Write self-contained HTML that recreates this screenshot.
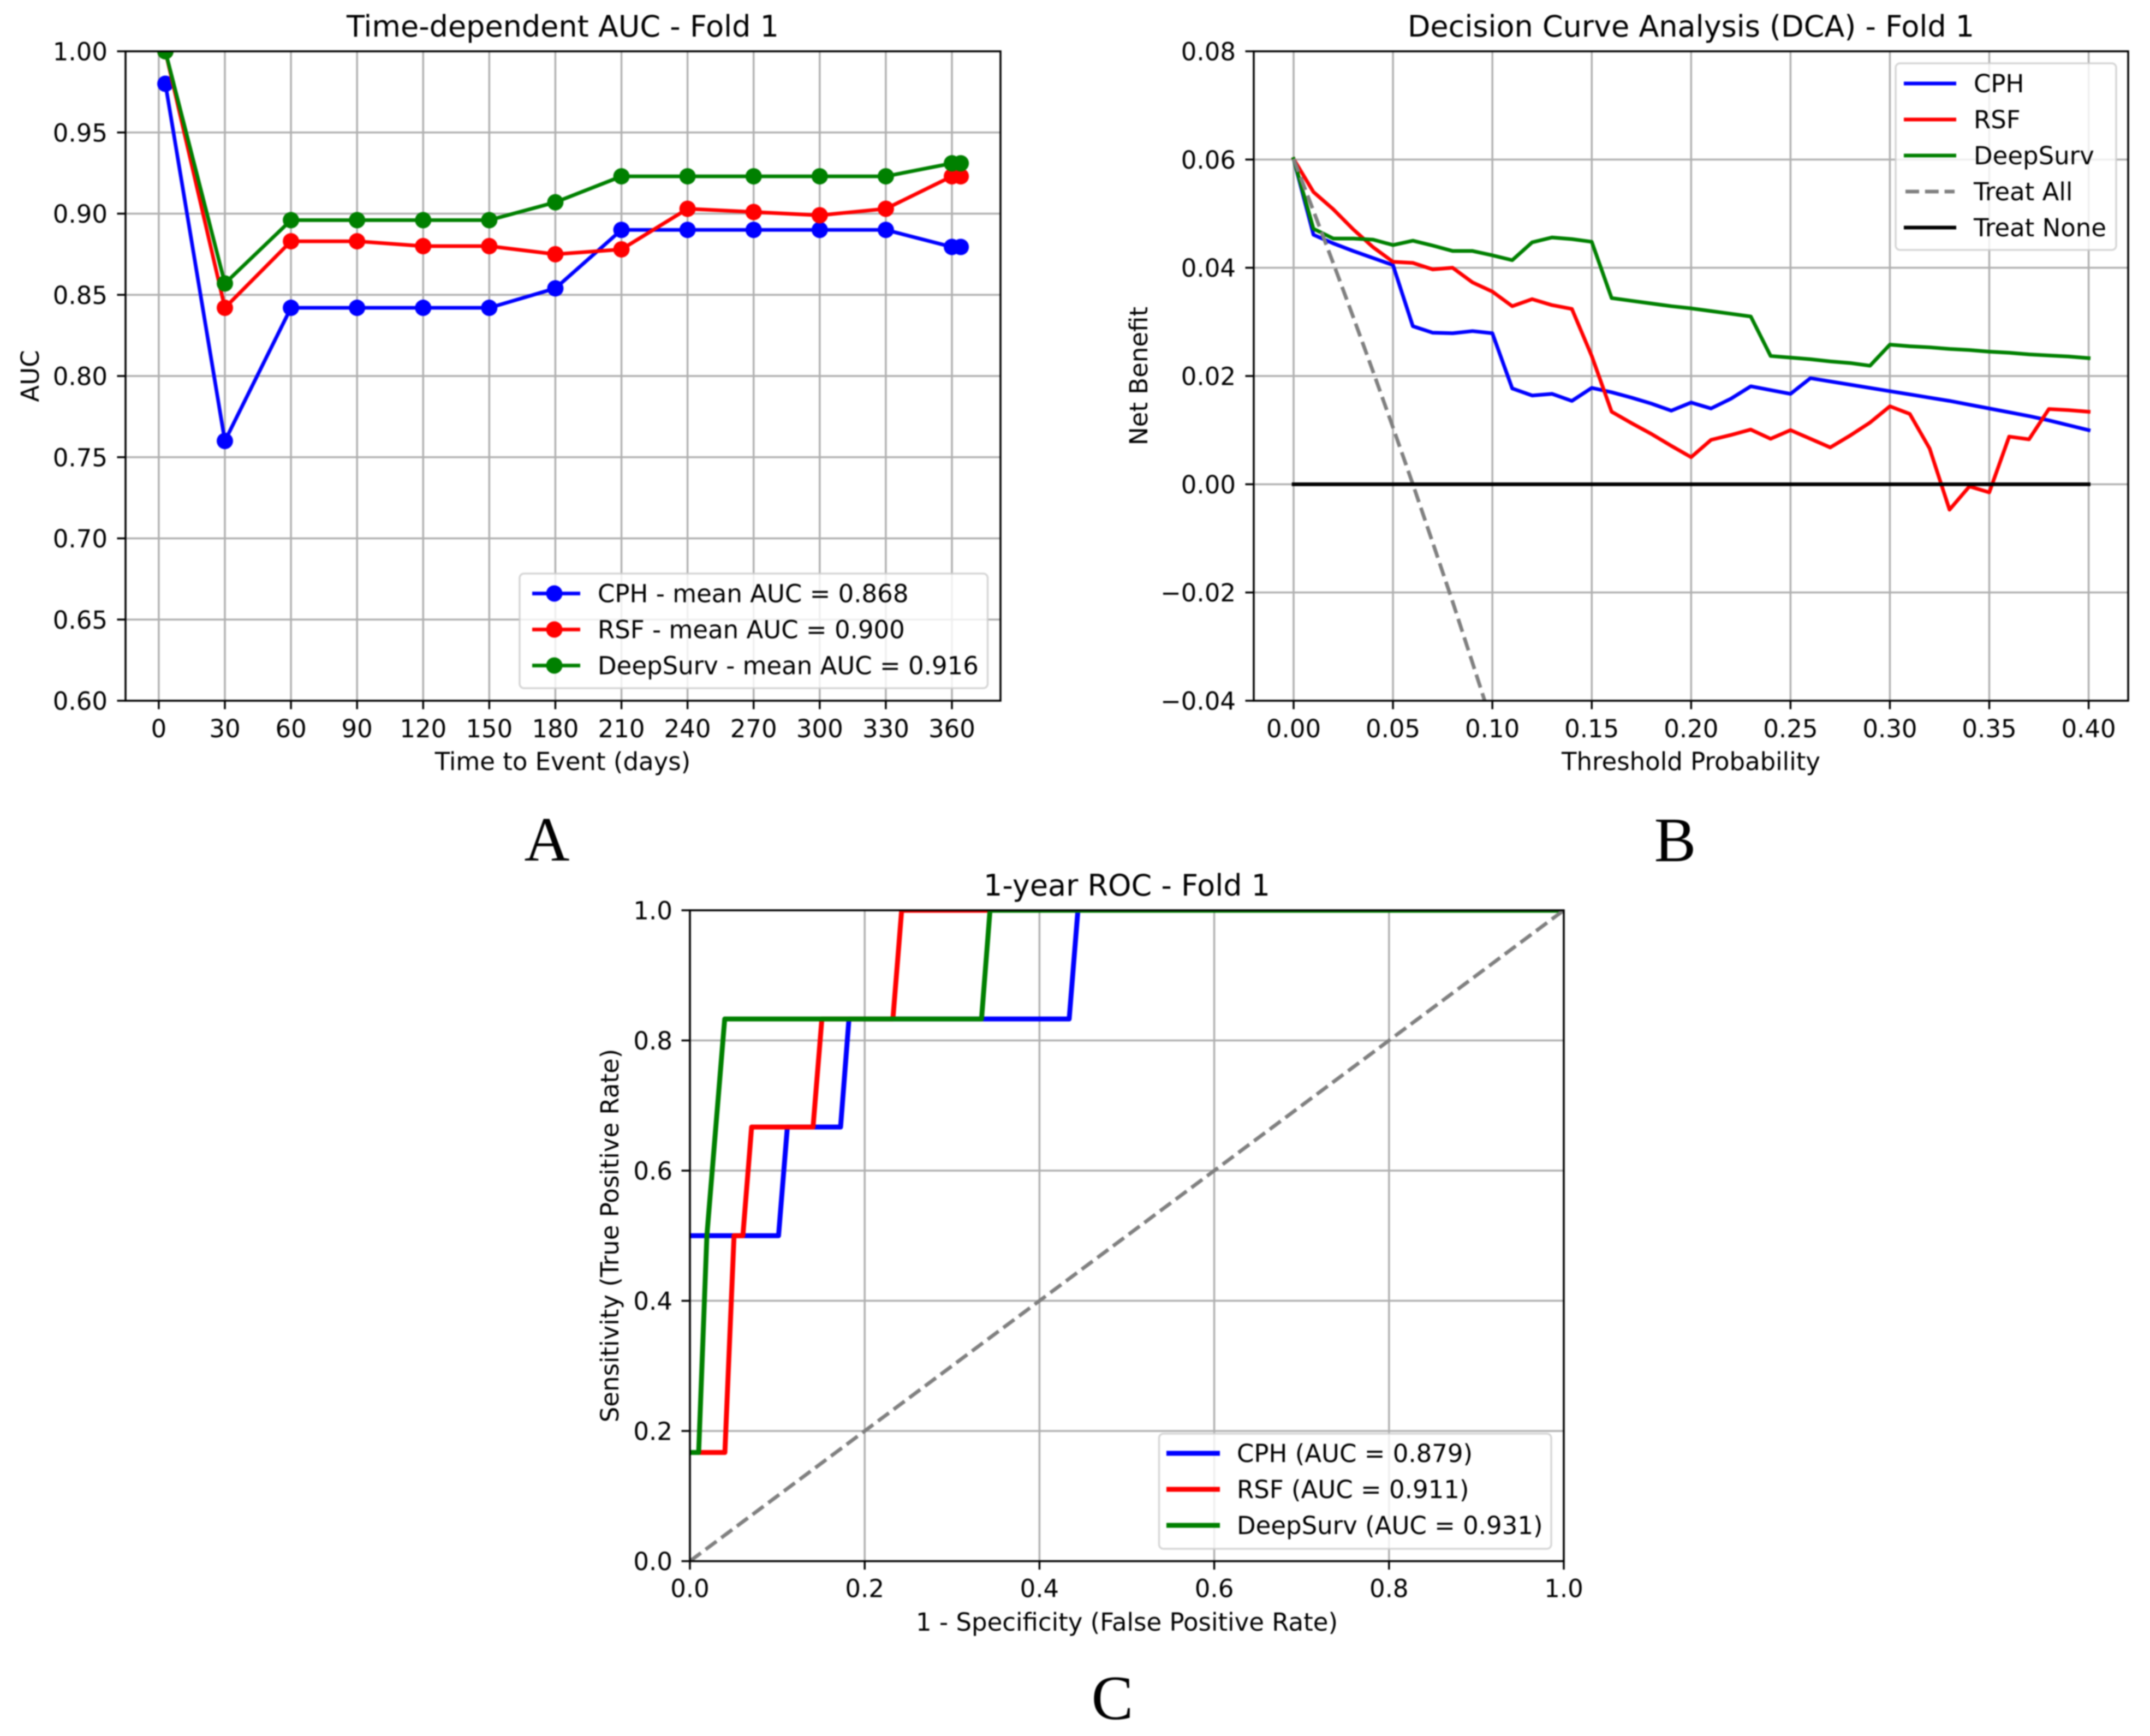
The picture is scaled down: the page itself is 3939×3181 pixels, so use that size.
<!DOCTYPE html>
<html lang="en">
<head>
<meta charset="utf-8">
<title>Survival model comparison - Fold 1</title>
<style>
html,body{margin:0;padding:0;background:#fff;}
svg{display:block;filter:blur(1.1px);}
text{font-family:"DejaVu Sans",sans-serif;fill:#000;}
.t10{font-size:45px;}
.t12{font-size:54px;}
.letter{font-family:"Liberation Serif",serif;font-size:115px;text-anchor:middle;}
.mid{text-anchor:middle;}
</style>
</head>
<body>
<svg id="figure" xmlns="http://www.w3.org/2000/svg" width="3939" height="3181" viewBox="0 0 3939 3181">
<defs>
<clipPath id="clip-a"><rect x="230" y="94" width="1603" height="1190"/></clipPath>
<clipPath id="clip-b"><rect x="2297" y="94" width="1602" height="1190"/></clipPath>
<clipPath id="clip-c"><rect x="1264" y="1668" width="1601" height="1192.6"/></clipPath>
</defs>
<rect width="3939" height="3181" fill="#fff"/>

<g id="panel-a"></g>
<g id="panel-b"></g>
<g id="panel-c"></g>

<g>
<text class="t12 mid" x="1031" y="67">Time-dependent AUC - Fold 1</text>
<text class="t10 mid" x="1031" y="1411">Time to Event (days)</text>
<text class="t10 mid" transform="translate(71 689) rotate(-90)">AUC</text>
<text class="letter" x="1002" y="1577">A</text>
</g>
<g>
<rect x="952" y="1051" width="857.5" height="210" rx="8" fill="#fff" fill-opacity="0.8" stroke="#ccc" stroke-opacity="0.8" stroke-width="3.5"/>
<g>
<line x1="975" x2="1063" y1="1087.5" y2="1087.5" stroke="#00f" stroke-width="6.75"/><circle cx="1015.5" cy="1087.5" r="15" fill="#00f"/>
<text class="t10" x="1095" y="1103.5">CPH - mean AUC = 0.868</text></g>
<g>
<line x1="975" x2="1063" y1="1153.5" y2="1153.5" stroke="#f00" stroke-width="6.75"/><circle cx="1015.5" cy="1153.5" r="15" fill="#f00"/>
<text class="t10" x="1095" y="1169.5">RSF - mean AUC = 0.900</text></g>
<g>
<line x1="975" x2="1063" y1="1219.5" y2="1219.5" stroke="#008000" stroke-width="6.75"/><circle cx="1015.5" cy="1219.5" r="15" fill="#008000"/>
<text class="t10" x="1095" y="1235.5">DeepSurv - mean AUC = 0.916</text></g>
</g>

<g>
<text class="t12 mid" x="3098" y="67">Decision Curve Analysis (DCA) - Fold 1</text>
<text class="t10 mid" x="3098" y="1411">Threshold Probability</text>
<text class="t10 mid" transform="translate(2102 689) rotate(-90)">Net Benefit</text>
<text class="letter" x="3069" y="1578">B</text>
</g>
<g>
<rect x="3473" y="116" width="404" height="342" rx="8" fill="#fff" fill-opacity="0.8" stroke="#ccc" stroke-opacity="0.8" stroke-width="3.5"/>
<g><line x1="3488" x2="3584" y1="153" y2="153" stroke="#00f" stroke-width="6.75"/><text class="t10" x="3616" y="169">CPH</text></g>
<g><line x1="3488" x2="3584" y1="219" y2="219" stroke="#f00" stroke-width="6.75"/><text class="t10" x="3616" y="235">RSF</text></g>
<g><line x1="3488" x2="3584" y1="285" y2="285" stroke="#008000" stroke-width="6.75"/><text class="t10" x="3616" y="301">DeepSurv</text></g>
<g><line x1="3491" x2="3581" y1="351" y2="351" stroke="#808080" stroke-width="6.75" stroke-dasharray="25 10.8"/><text class="t10" x="3616" y="367">Treat All</text></g>
<g><line x1="3488" x2="3584" y1="417" y2="417" stroke="#000" stroke-width="6.75"/><text class="t10" x="3616" y="433">Treat None</text></g>
</g>

<g>
<text class="t12 mid" x="2064.5" y="1641">1-year ROC - Fold 1</text>
<text class="t10 mid" x="2064.5" y="2988">1 - Specificity (False Positive Rate)</text>
<text class="t10 mid" transform="translate(1133 2264) rotate(-90)">Sensitivity (True Positive Rate)</text>
<text class="letter" x="2038" y="3150">C</text>
</g>
<g>
<rect x="2123.5" y="2627" width="718.5" height="211" rx="8" fill="#fff" fill-opacity="0.8" stroke="#ccc" stroke-opacity="0.8" stroke-width="3.5"/>
<g><line x1="2137" x2="2235" y1="2663" y2="2663" stroke="#00f" stroke-width="9"/><text class="t10" x="2266" y="2679">CPH (AUC = 0.879)</text></g>
<g><line x1="2137" x2="2235" y1="2729" y2="2729" stroke="#f00" stroke-width="9"/><text class="t10" x="2266" y="2745">RSF (AUC = 0.911)</text></g>
<g><line x1="2137" x2="2235" y1="2795" y2="2795" stroke="#008000" stroke-width="9"/><text class="t10" x="2266" y="2811">DeepSurv (AUC = 0.931)</text></g>
</g>
</svg>

<script>
/* ---------- Panel A data: time-dependent AUC ---------- */
const aucDays = [3, 30, 60, 90, 120, 150, 180, 210, 240, 270, 300, 330, 360, 364];
const aucCph = [0.980, 0.760, 0.842, 0.842, 0.842, 0.842, 0.854, 0.890, 0.890, 0.890, 0.890, 0.890, 0.8795, 0.8795];
const aucRsf = [1.000, 0.842, 0.883, 0.883, 0.880, 0.880, 0.875, 0.878, 0.903, 0.901, 0.899, 0.903, 0.923, 0.923];
const aucDeepSurv = [1.000, 0.857, 0.896, 0.896, 0.896, 0.896, 0.907, 0.923, 0.923, 0.923, 0.923, 0.923, 0.931, 0.931];
const aucXTicks = [0, 30, 60, 90, 120, 150, 180, 210, 240, 270, 300, 330, 360];
const aucXLabels = ['0', '30', '60', '90', '120', '150', '180', '210', '240', '270', '300', '330', '360'];
const aucYTicks = [0.60, 0.65, 0.70, 0.75, 0.80, 0.85, 0.90, 0.95, 1.00];
const aucYLabels = ['0.60', '0.65', '0.70', '0.75', '0.80', '0.85', '0.90', '0.95', '1.00'];

/* ---------- Panel B data: decision curve ---------- */
const dcaThresholds = [0, 0.01, 0.02, 0.03, 0.04, 0.05, 0.06, 0.07, 0.08, 0.09, 0.10, 0.11, 0.12, 0.13, 0.14, 0.15, 0.16, 0.17, 0.18, 0.19, 0.20, 0.21, 0.22, 0.23, 0.24, 0.25, 0.26, 0.27, 0.28, 0.29, 0.30, 0.31, 0.32, 0.33, 0.34, 0.35, 0.36, 0.37, 0.38, 0.39, 0.40];
const dcaCph = [0.0601, 0.0461, 0.0445, 0.0431, 0.0418, 0.0405, 0.0292, 0.0280, 0.0279, 0.0283, 0.0279, 0.0177, 0.0164, 0.0167, 0.0154, 0.0178, 0.0170, 0.0160, 0.0149, 0.0136, 0.0151, 0.0140, 0.0158, 0.0181, 0.0174, 0.0167, 0.0196, 0.0190, 0.0184, 0.0178, 0.0172, 0.0166, 0.0160, 0.0154, 0.0147, 0.0140, 0.0133, 0.0126, 0.0118, 0.0109, 0.0100];
const dcaRsf = [0.0601, 0.0540, 0.0508, 0.0471, 0.0438, 0.0411, 0.0409, 0.0397, 0.0400, 0.0373, 0.0356, 0.0329, 0.0342, 0.0331, 0.0324, 0.0237, 0.0134, 0.0113, 0.0093, 0.0071, 0.0050, 0.0082, 0.0091, 0.0101, 0.0084, 0.0100, 0.0084, 0.0068, 0.0090, 0.0114, 0.0144, 0.0130, 0.0066, -0.0047, -0.0004, -0.0015, 0.0088, 0.0083, 0.0139, 0.0137, 0.0134];
const dcaDeepSurv = [0.0601, 0.0472, 0.0454, 0.0454, 0.0452, 0.0442, 0.0450, 0.0441, 0.0431, 0.0431, 0.0423, 0.0414, 0.0447, 0.0456, 0.0453, 0.0448, 0.0344, 0.0339, 0.0334, 0.0329, 0.0325, 0.0320, 0.0315, 0.0310, 0.0237, 0.0234, 0.0231, 0.0227, 0.0224, 0.0219, 0.0258, 0.0255, 0.0253, 0.0250, 0.0248, 0.0245, 0.0243, 0.0240, 0.0238, 0.0236, 0.0233];
const dcaTreatAllThresholds = [0, 0.01, 0.02, 0.03, 0.04, 0.05, 0.06, 0.07, 0.08, 0.09, 0.10, 0.11];
const dcaTreatAll = [0.0601, 0.0505, 0.0408, 0.0309, 0.0208, 0.0105, 0, -0.0108, -0.0217, -0.0330, -0.0444, -0.0560];
const dcaTreatNoneThresholds = [0, 0.40];
const dcaTreatNone = [0, 0];
const dcaXTicks = [0, 0.05, 0.10, 0.15, 0.20, 0.25, 0.30, 0.35, 0.40];
const dcaXLabels = ['0.00', '0.05', '0.10', '0.15', '0.20', '0.25', '0.30', '0.35', '0.40'];
const dcaYTicks = [-0.04, -0.02, 0, 0.02, 0.04, 0.06, 0.08];
const dcaYLabels = ['\u22120.04', '\u22120.02', '0.00', '0.02', '0.04', '0.06', '0.08'];

/* ---------- Panel C data: 1-year ROC ---------- */
const rocCphFpr = [0, 0.1014, 0.1115, 0.1724, 0.182, 0.434, 0.444, 1];
const rocCphTpr = [0.5, 0.5, 0.667, 0.667, 0.833, 0.833, 1, 1];
const rocRsfFpr = [0, 0.04, 0.0505, 0.0606, 0.0706, 0.1409, 0.151, 0.2323, 0.2423, 1];
const rocRsfTpr = [0.167, 0.167, 0.5, 0.5, 0.667, 0.667, 0.833, 0.833, 1, 1];
const rocDeepSurvFpr = [0, 0.01, 0.0194, 0.0398, 0.3337, 0.3434, 1];
const rocDeepSurvTpr = [0.167, 0.167, 0.5, 0.833, 0.833, 1, 1];
const rocChanceFpr = [0, 1];
const rocChanceTpr = [0, 1];
const rocXTicks = [0, 0.2, 0.4, 0.6, 0.8, 1];
const rocXLabels = ['0.0', '0.2', '0.4', '0.6', '0.8', '1.0'];
const rocYTicks = [0, 0.2, 0.4, 0.6, 0.8, 1];
const rocYLabels = ['0.0', '0.2', '0.4', '0.6', '0.8', '1.0'];

const NS = 'http://www.w3.org/2000/svg';

function linearAxis(d0, d1, p0, p1) {
  return function (v) { return p0 + (v - d0) * (p1 - p0) / (d1 - d0); };
}

function drawFrame(layer, box, x, y, xTicks, xLabels, yTicks, yLabels, cfg) {
  xTicks.forEach(function (t, i) {
    const px = x(t);
    const grid = document.createElementNS(NS, 'line');
    
    
    grid.setAttribute('x1', px); grid.setAttribute('x2', px);
    grid.setAttribute('y1', box.top); grid.setAttribute('y2', box.bottom);
    grid.setAttribute('stroke', '#b0b0b0'); grid.setAttribute('stroke-width', '3.5');
    layer.appendChild(grid);
    const label = document.createElementNS(NS, 'text');
    
    
    label.setAttribute('class', 't10 mid');
    label.setAttribute('x', px); label.setAttribute('y', box.bottom + cfg.xLabelOffset);
    label.textContent = xLabels[i];
    layer.appendChild(label);
  });
  yTicks.forEach(function (t, i) {
    const py = y(t);
    const grid = document.createElementNS(NS, 'line');
    
    
    grid.setAttribute('x1', box.left); grid.setAttribute('x2', box.right);
    grid.setAttribute('y1', py); grid.setAttribute('y2', py);
    grid.setAttribute('stroke', '#b0b0b0'); grid.setAttribute('stroke-width', '3.5');
    layer.appendChild(grid);
    const label = document.createElementNS(NS, 'text');
    
    
    label.setAttribute('class', 't10');
    label.setAttribute('text-anchor', 'end');
    label.setAttribute('x', box.left - cfg.yLabelOffset); label.setAttribute('y', py + 16.5);
    label.textContent = yLabels[i];
    layer.appendChild(label);
  });
}

function drawTicksAndSpines(layer, box, x, y, xTicks, yTicks) {
  xTicks.forEach(function (t) {
    const tick = document.createElementNS(NS, 'line');
    
    
    tick.setAttribute('x1', x(t)); tick.setAttribute('x2', x(t));
    tick.setAttribute('y1', box.bottom); tick.setAttribute('y2', box.bottom + 15.5);
    tick.setAttribute('stroke', '#000'); tick.setAttribute('stroke-width', '3.5');
    layer.appendChild(tick);
  });
  yTicks.forEach(function (t) {
    const tick = document.createElementNS(NS, 'line');
    
    
    tick.setAttribute('x1', box.left - 15.5); tick.setAttribute('x2', box.left);
    tick.setAttribute('y1', y(t)); tick.setAttribute('y2', y(t));
    tick.setAttribute('stroke', '#000'); tick.setAttribute('stroke-width', '3.5');
    layer.appendChild(tick);
  });
  const spine = document.createElementNS(NS, 'rect');
  
  
  spine.setAttribute('x', box.left); spine.setAttribute('y', box.top);
  spine.setAttribute('width', box.right - box.left); spine.setAttribute('height', box.bottom - box.top);
  spine.setAttribute('fill', 'none'); spine.setAttribute('stroke', '#000'); spine.setAttribute('stroke-width', '3.5');
  layer.appendChild(spine);
}

function drawLine(layer, name, xs, ys, x, y, color, width, clip, dash) {
  const pts = xs.map(function (v, i) { return x(v).toFixed(2) + ',' + y(ys[i]).toFixed(2); }).join(' ');
  const line = document.createElementNS(NS, 'polyline');
  
  
  line.setAttribute('points', pts);
  line.setAttribute('fill', 'none');
  line.setAttribute('stroke', color);
  line.setAttribute('stroke-width', width);
  line.setAttribute('stroke-linejoin', 'round');
  line.setAttribute('clip-path', 'url(#' + clip + ')');
  if (dash) { line.setAttribute('stroke-dasharray', dash); }
  else { line.setAttribute('stroke-linecap', 'square'); }
  layer.appendChild(line);
}

function drawPoints(layer, name, xs, ys, x, y, color, clip) {
  xs.forEach(function (v, i) {
    const dot = document.createElementNS(NS, 'circle');
    
    
    dot.setAttribute('cx', x(v));
    dot.setAttribute('cy', y(ys[i]));
    dot.setAttribute('r', '15');
    dot.setAttribute('fill', color);
    dot.setAttribute('clip-path', 'url(#' + clip + ')');
    layer.appendChild(dot);
  });
}

/* Panel A */
(function () {
  const layer = document.getElementById('panel-a');
  const box = { left: 230, right: 1833, top: 94, bottom: 1284 };
  const x = linearAxis(0, 360, 290.9, 1744);
  const y = linearAxis(0.6, 1, 1284, 94);
  drawFrame(layer, box, x, y, aucXTicks, aucXLabels, aucYTicks, aucYLabels, { xLabelOffset: 67, yLabelOffset: 33 });
  drawLine(layer, 'cph-auc-line', aucDays, aucCph, x, y, '#00f', 6.75, 'clip-a');
  drawPoints(layer, 'cph-auc-point', aucDays, aucCph, x, y, '#00f', 'clip-a');
  drawLine(layer, 'rsf-auc-line', aucDays, aucRsf, x, y, '#f00', 6.75, 'clip-a');
  drawPoints(layer, 'rsf-auc-point', aucDays, aucRsf, x, y, '#f00', 'clip-a');
  drawLine(layer, 'deepsurv-auc-line', aucDays, aucDeepSurv, x, y, '#008000', 6.75, 'clip-a');
  drawPoints(layer, 'deepsurv-auc-point', aucDays, aucDeepSurv, x, y, '#008000', 'clip-a');
  drawTicksAndSpines(layer, box, x, y, aucXTicks, aucYTicks);
})();

/* Panel B */
(function () {
  const layer = document.getElementById('panel-b');
  const box = { left: 2297, right: 3899, top: 94, bottom: 1284 };
  const x = linearAxis(0, 0.4, 2370, 3826.6);
  const y = linearAxis(-0.04, 0.08, 1284, 94);
  drawFrame(layer, box, x, y, dcaXTicks, dcaXLabels, dcaYTicks, dcaYLabels, { xLabelOffset: 67, yLabelOffset: 33 });
  drawLine(layer, 'cph-net-benefit-line', dcaThresholds, dcaCph, x, y, '#00f', 6.75, 'clip-b');
  drawLine(layer, 'rsf-net-benefit-line', dcaThresholds, dcaRsf, x, y, '#f00', 6.75, 'clip-b');
  drawLine(layer, 'deepsurv-net-benefit-line', dcaThresholds, dcaDeepSurv, x, y, '#008000', 6.75, 'clip-b');
  drawLine(layer, 'treat-all-line', dcaTreatAllThresholds, dcaTreatAll, x, y, '#808080', 6.75, 'clip-b', '25 10.8');
  drawLine(layer, 'treat-none-line', dcaTreatNoneThresholds, dcaTreatNone, x, y, '#000', 6.75, 'clip-b');
  drawTicksAndSpines(layer, box, x, y, dcaXTicks, dcaYTicks);
})();

/* Panel C */
(function () {
  const layer = document.getElementById('panel-c');
  const box = { left: 1264, right: 2865, top: 1668, bottom: 2860.6 };
  const x = linearAxis(0, 1, 1264, 2865);
  const y = linearAxis(0, 1, 2860.6, 1668);
  drawFrame(layer, box, x, y, rocXTicks, rocXLabels, rocYTicks, rocYLabels, { xLabelOffset: 66, yLabelOffset: 32 });
  drawLine(layer, 'cph-roc-curve', rocCphFpr, rocCphTpr, x, y, '#00f', 9, 'clip-c');
  drawLine(layer, 'rsf-roc-curve', rocRsfFpr, rocRsfTpr, x, y, '#f00', 9, 'clip-c');
  drawLine(layer, 'deepsurv-roc-curve', rocDeepSurvFpr, rocDeepSurvTpr, x, y, '#008000', 9, 'clip-c');
  drawLine(layer, 'chance-diagonal', rocChanceFpr, rocChanceTpr, x, y, '#808080', 6.75, 'clip-c', '25 10.8');
  drawTicksAndSpines(layer, box, x, y, rocXTicks, rocYTicks);
})();
</script>
</body>
</html>
